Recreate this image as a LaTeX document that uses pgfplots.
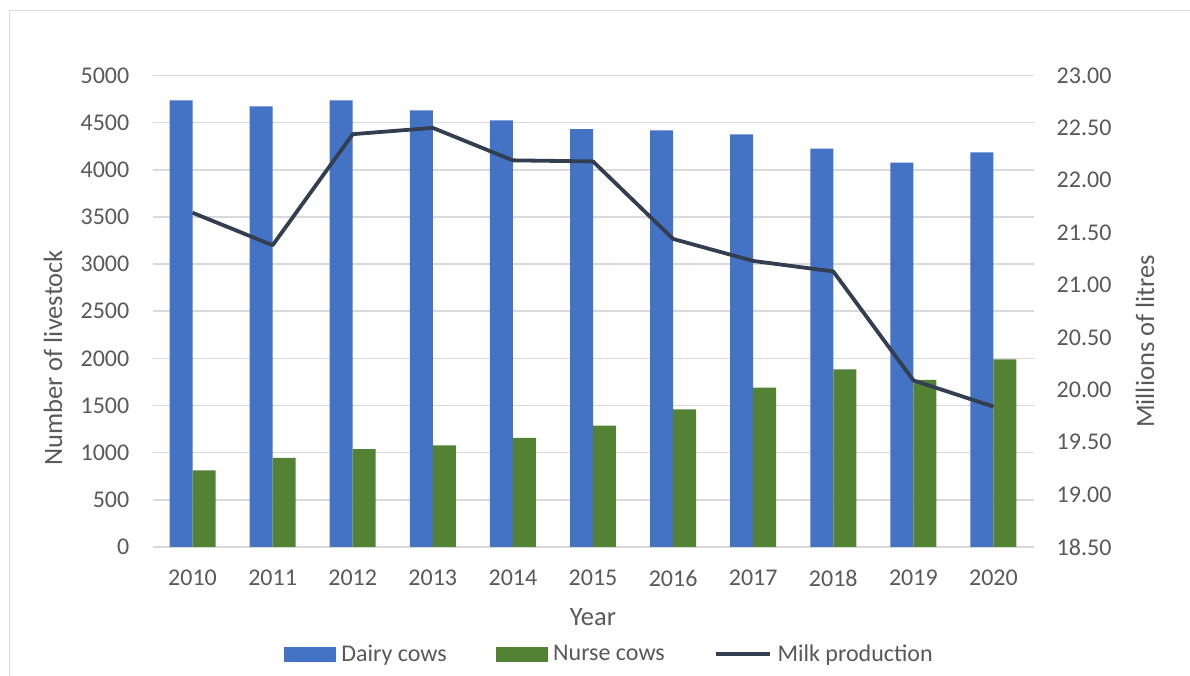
\documentclass[border=0pt]{standalone}
\usepackage{fontspec}
\setmainfont{Carlito}
\usepackage{pgfplots}
\pgfplotsset{compat=1.18}
\definecolor{dairy}{HTML}{4472C4}
\definecolor{nurse}{HTML}{548235}
\definecolor{milk}{HTML}{333F50}
\definecolor{gridc}{HTML}{D9D9D9}
\definecolor{txt}{HTML}{595959}
\newcommand{\tickfont}{\fontsize{24}{28}\selectfont}
\newcommand{\titlefont}{\fontsize{26.5}{31}\selectfont}
\begin{document}
\begin{tikzpicture}[x=1pt,y=1pt]
\useasboundingbox (0,0) rectangle (1190,676);
\draw[gridc, line width=1.5pt] (9.3,-10) -- (9.3,665.7) -- (1200,665.7);
\begin{axis}[
  at={(152.5pt,129pt)}, anchor=south west, scale only axis,
  width=881pt, height=471.5pt,
  xmin=-0.5, xmax=10.5, ymin=0, ymax=5000,
  xtick={0,1,2,3,4,5,6,7,8,9,10},
  xticklabels={2010,2011,2012,2013,2014,2015,2016,2017,2018,2019,2020},
  ytick={0,500,1000,1500,2000,2500,3000,3500,4000,4500,5000},
  scaled ticks=false,
  ymajorgrids, grid style={gridc, line width=1.5pt},
  axis line style={draw=none}, major tick length=0pt,
  tick label style={font=\tickfont, text=txt},
  yticklabel style={anchor=east, inner sep=0pt, xshift=-23pt},
  xticklabel style={anchor=north, inner sep=0pt, yshift=-23pt},
  /pgf/number format/assume math mode=true,
  /pgf/number format/1000 sep={},
  ylabel={Number of livestock},
  every axis y label/.style={at={(axis description cs:-0.113,0.401)}, rotate=90, anchor=center, font=\titlefont, text=txt},
  xlabel={Year},
  every axis x label/.style={at={(axis description cs:0.5,-0.148)}, anchor=center, font=\titlefont, text=txt},
]
\addplot[ybar, bar width=0.287, bar shift=-0.1435, fill=dairy, draw=none] coordinates {
 (0,4737) (1,4673) (2,4737) (3,4631) (4,4525) (5,4430) (6,4419) (7,4376) (8,4224) (9,4075) (10,4186)};
\addplot[ybar, bar width=0.287, bar shift=0.1435, fill=nurse, draw=none] coordinates {
 (0,813) (1,944) (2,1039) (3,1078) (4,1156) (5,1286) (6,1460) (7,1689) (8,1884) (9,1771) (10,1990)};
\end{axis}
\begin{axis}[
  at={(152.5pt,129pt)}, anchor=south west, scale only axis,
  width=881pt, height=471.5pt,
  xmin=-0.5, xmax=10.5, ymin=18.5, ymax=23,
  hide x axis, axis y line*=right,
  ytick={18.5,19,19.5,20,20.5,21,21.5,22,22.5,23},
  scaled ticks=false,
  axis line style={draw=none}, major tick length=0pt,
  tick label style={font=\tickfont, text=txt},
  yticklabel style={anchor=west, inner sep=0pt, xshift=23pt,
    /pgf/number format/.cd, fixed, fixed zerofill, precision=2, /tikz/.cd},
  /pgf/number format/assume math mode=true,
  ylabel={Millions of litres},
  every axis y label/.style={at={(axis description cs:1.1266,0.436)}, rotate=90, anchor=center, font=\titlefont, text=txt},
  legend columns=3,
  legend style={at={(axis description cs:0.149,-0.227)}, anchor=west, draw=none,
    inner sep=0pt, font=\tickfont, text=txt,
    nodes={inner sep=0pt, text=txt},
    /tikz/every odd column/.append style={column sep=6pt},
    /tikz/every even column/.append style={column sep=49pt}},
  legend cell align=left,
]
\addlegendimage{legend image code/.code={\fill[dairy] (0pt,-6.7pt) rectangle (51pt,6.7pt);}}
\addlegendentry{Dairy cows}
\addlegendimage{legend image code/.code={\fill[nurse] (0pt,-6.7pt) rectangle (51pt,6.7pt);}}
\addlegendentry{Nurse cows}
\addplot[milk, line width=3.8pt, line join=round, mark=none,
  legend image code/.code={\draw[milk, line width=3.8pt] (0pt,0pt) -- (54pt,0pt);}] coordinates {
 (0,21.69) (1,21.38) (2,22.44) (3,22.50) (4,22.19) (5,22.18) (6,21.44) (7,21.23) (8,21.13) (9,20.09) (10,19.84)};
\addlegendentry{Milk production}
\end{axis}
\end{tikzpicture}
\end{document}
